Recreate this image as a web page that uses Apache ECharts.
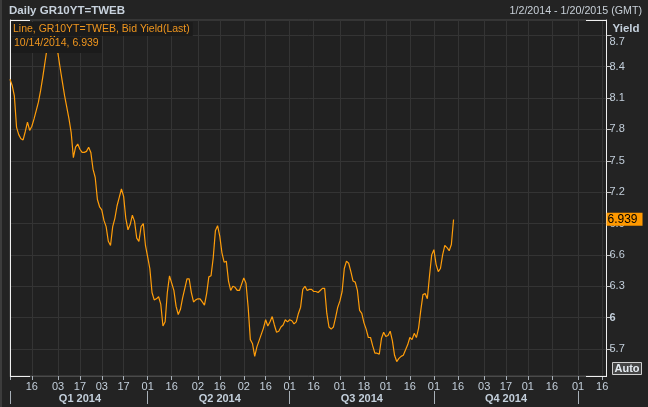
<!DOCTYPE html>
<html><head><meta charset="utf-8">
<script src="https://cdn.jsdelivr.net/npm/echarts@6/dist/echarts.min.js"></script>
<style>html,body{margin:0;padding:0;background:#232323;}#c{width:648px;height:407px;}</style>
</head><body><div id="c"></div>
<script>
// ---- data ----
const startDate = '2014-01-02';
const endDate = '2015-01-20';
const yields = [
 8.28,8.22,8.12,7.82,7.75,7.71,7.70,7.78,7.87,7.79,
 7.83,7.90,7.98,8.06,8.17,8.30,8.44,8.58,8.66,8.70,
 8.71,8.64,8.52,8.38,8.25,8.12,8.01,7.90,7.77,7.53,
 7.63,7.66,7.61,7.58,7.58,7.59,7.63,7.58,7.42,7.34,
 7.13,7.06,7.03,6.93,6.87,6.73,6.69,6.87,6.95,7.07,
 7.15,7.23,7.16,6.95,6.84,6.89,6.98,6.92,6.76,6.73,
 6.87,6.90,6.69,6.58,6.47,6.24,6.17,6.18,6.20,6.13,
 5.92,5.96,6.24,6.40,6.33,6.26,6.11,6.03,6.08,6.19,
 6.28,6.37,6.37,6.24,6.15,6.17,6.18,6.18,6.15,6.12,
 6.23,6.39,6.40,6.57,6.83,6.88,6.78,6.62,6.53,6.54,
 6.35,6.26,6.30,6.29,6.26,6.26,6.32,6.38,6.33,6.10,
 5.79,5.75,5.63,5.72,5.78,5.84,5.90,5.98,5.92,5.96,
 6.01,5.93,5.86,5.87,5.91,5.93,5.98,5.96,5.98,5.97,
 5.94,5.96,6.04,6.10,6.27,6.30,6.26,6.27,6.27,6.25,
 6.25,6.24,6.26,6.28,6.28,6.04,5.91,5.89,5.91,6.00,
 6.10,6.16,6.25,6.47,6.54,6.52,6.44,6.35,6.34,6.26,
 6.07,6.04,5.95,5.89,5.81,5.81,5.73,5.66,5.66,5.65,
 5.80,5.86,5.82,5.83,5.87,5.78,5.64,5.58,5.61,5.63,
 5.64,5.69,5.74,5.81,5.79,5.85,5.81,5.90,6.07,6.22,
 6.23,6.18,6.40,6.60,6.65,6.51,6.44,6.47,6.60,6.69,
 6.67,6.64,6.70,6.939
];
const tickDates = ['2014-01-16','2014-02-03','2014-02-17','2014-03-03','2014-03-17','2014-04-01','2014-04-16','2014-05-02','2014-05-16','2014-06-02','2014-06-16','2014-07-01','2014-07-16','2014-08-01','2014-08-18','2014-09-01','2014-09-16','2014-10-01','2014-10-16','2014-11-03','2014-11-17','2014-12-01','2014-12-16','2015-01-01','2015-01-16'];
const tickLabels = ['16','03','17','03','17','01','16','02','16','02','16','01','16','01','18','01','16','01','16','03','17','01','16','01','16'];
const quarterStarts = ['2014-01-02','2014-04-01','2014-07-01','2014-10-01','2015-01-01'];
const quarterLabels = ['Q1 2014','Q2 2014','Q3 2014','Q4 2014'];
const yTicks = [5.7,6,6.3,6.6,6.9,7.2,7.5,7.8,8.1,8.4,8.7];
const yMin = 5.442, yMax = 8.846;

// ---- business-day categories ----
function iso(d){ return d.toISOString().slice(0,10); }
const categories = [];
for (let d = new Date(startDate + 'T00:00:00Z'); iso(d) <= endDate; d.setUTCDate(d.getUTCDate() + 1)) {
  const w = d.getUTCDay();
  if (w !== 0 && w !== 6) categories.push(iso(d));
}
const labelAt = {};
tickDates.forEach((t, i) => { labelAt[categories.indexOf(t)] = tickLabels[i]; });
const tickIdx = new Set(Object.keys(labelAt).map(Number)); tickIdx.add(0);
const qIdx = quarterStarts.map(q => categories.indexOf(q));
const qLabelAt = {};
quarterLabels.forEach((l, i) => { qLabelAt[Math.round((qIdx[i] + qIdx[i + 1]) / 2)] = l; });
const qTickSet = new Set(qIdx);

const lastVal = yields[yields.length - 1];
const lastDate = categories[yields.length - 1];
const lastDateTxt = (+lastDate.slice(5,7)) + '/' + (+lastDate.slice(8,10)) + '/' + lastDate.slice(0,4);
const firstTxt = (+startDate.slice(5,7)) + '/' + (+startDate.slice(8,10)) + '/' + startDate.slice(0,4);
const endTxt = (+endDate.slice(5,7)) + '/' + (+endDate.slice(8,10)) + '/' + endDate.slice(0,4);

const FONT = '"Liberation Sans", Arial, sans-serif';
const LBL = '#c3cfdb';
const chart = echarts.init(document.getElementById('c'), null, {renderer: 'canvas'});
chart.setOption({
  animation: false,
  backgroundColor: '#232323',
  textStyle: { fontFamily: FONT },
  title: [
    { text: 'Daily GR10YT=TWEB', left: 6, top: 3, padding: [2,3,2,3],
      textStyle: { color: '#c8d2dd', fontSize: 11.5, fontWeight: 'bold', fontFamily: FONT } },
    { text: firstTxt + ' - ' + endTxt + ' (GMT)', right: 3, top: 4, padding: [2,3,2,3],
      textStyle: { color: '#c8d0d8', fontSize: 10.7, fontWeight: 'normal', fontFamily: FONT } },
    { text: 'Line, GR10YT=TWEB, Bid Yield(Last)', left: 11, top: 22, padding: [2,3,1,2],
      backgroundColor: '#1b1b1b',
      textStyle: { color: '#f0961e', fontSize: 10.5, fontWeight: 'normal', fontFamily: FONT } },
    { text: lastDateTxt + ', ' + lastVal, left: 11, top: 37, padding: [1,3,4,3],
      backgroundColor: '#1b1b1b',
      textStyle: { color: '#f0961e', fontSize: 10.5, fontWeight: 'normal', fontFamily: FONT } }
  ],
  grid: { left: 10, right: 41.5, top: 20, bottom: 31, show: true,
          backgroundColor: '#212121', borderColor: '#4a4a4a', borderWidth: 1 },
  xAxis: [
    { type: 'category', data: categories, boundaryGap: false,
      axisLine: { show: true, onZero: false, lineStyle: { color: '#4a4a4a' } },
      axisTick: { show: true, length: 4, interval: (i) => tickIdx.has(i), lineStyle: { color: '#a8b0b8' } },
      axisLabel: { show: true, interval: (i) => labelAt[i] !== undefined, formatter: (v, i) => labelAt[i] || '',
                   color: LBL, fontSize: 11, margin: 5, fontFamily: FONT },
      splitLine: { show: true, interval: (i) => labelAt[i] !== undefined, lineStyle: { color: '#343434', width: 1 } }
    },
    { type: 'category', data: categories, boundaryGap: false, position: 'bottom', offset: 15,
      axisLine: { show: false },
      axisTick: { show: true, length: 13, interval: (i) => qTickSet.has(i), lineStyle: { color: '#a8b0b8' } },
      axisLabel: { show: true, interval: (i) => qLabelAt[i] !== undefined, formatter: (v, i) => qLabelAt[i] || '',
                   color: LBL, fontSize: 11, fontWeight: 'bold', margin: 2, fontFamily: FONT },
      splitLine: { show: false }
    }
  ],
  yAxis: [
    { type: 'value', position: 'right', min: yMin, max: yMax, scale: true,
      name: 'Yield', nameLocation: 'end', nameGap: -3,
      nameTextStyle: { color: LBL, fontWeight: 'bold', fontSize: 11.5, align: 'left', verticalAlign: 'top', padding: [0,0,0,6], fontFamily: FONT },
      axisLine: { show: true, onZero: false, lineStyle: { color: '#f0f0f0' } },
      axisTick: { show: true, length: 5, customValues: yTicks, lineStyle: { color: '#c8c8c8' } },
      axisLabel: { show: true, customValues: yTicks, margin: 3, color: LBL, fontSize: 11, fontFamily: FONT,
        formatter: (v) => v === 6 ? '{b|6}' : (v === 8.7 ? '{t|8.7}' : String(v)),
        rich: { b: { fontWeight: 'bold', color: LBL, fontSize: 11, fontFamily: FONT },
                t: { color: LBL, fontSize: 11, padding: [13,0,0,0], fontFamily: FONT } } },
      splitLine: { show: true, lineStyle: { color: '#343434', width: 1 } }
    },
    { type: 'value', position: 'left', min: yMin, max: yMax, scale: true,
      axisLine: { show: true, onZero: false, lineStyle: { color: '#f0f0f0' } },
      axisTick: { show: false }, axisLabel: { show: false }, splitLine: { show: false }
    }
  ],
  series: [{
    type: 'line', data: yields, xAxisIndex: 0, yAxisIndex: 0,
    showSymbol: false, symbol: 'none', smooth: false,
    lineStyle: { color: '#ff9d0a', width: 1.2 },
    markLine: {
      silent: true, symbol: ['none', 'none'], animation: false,
      lineStyle: { color: 'rgba(0,0,0,0)', width: 1, type: 'solid' },
      label: { show: true, position: 'end', distance: 0, formatter: () => String(lastVal),
               backgroundColor: '#ff9900', color: '#000000', opacity: 1, fontSize: 12, padding: [1,5,0,1], fontFamily: FONT },
      data: [{ yAxis: lastVal }]
    }
  }],
  graphic: [
    { type: 'rect', left: 0, top: 0, shape: { width: 2, height: 407 }, style: { fill: '#3c3c3c' }, silent: true },
    { type: 'line', shape: { x1: 10, y1: 20.5, x2: 30, y2: 20.5 }, style: { stroke: '#f0f0f0', lineWidth: 1 }, z: 100, silent: true },
    { type: 'line', shape: { x1: 10, y1: 376.5, x2: 30, y2: 376.5 }, style: { stroke: '#f0f0f0', lineWidth: 1 }, z: 100, silent: true },
    { type: 'line', shape: { x1: 586, y1: 20.5, x2: 607, y2: 20.5 }, style: { stroke: '#f0f0f0', lineWidth: 1 }, z: 100, silent: true },
    { type: 'line', shape: { x1: 586, y1: 376.5, x2: 607, y2: 376.5 }, style: { stroke: '#f0f0f0', lineWidth: 1 }, z: 100, silent: true },
    { type: 'group', left: 612, top: 362, children: [
      { type: 'rect', shape: { x: 0.5, y: 0.5, width: 29, height: 12 }, style: { fill: '#454545', stroke: '#d0d0d0', lineWidth: 1 } },
      { type: 'text', x: 15, y: 7, style: { text: 'Auto', fill: '#e4eaf0', font: 'bold 11px "Liberation Sans", Arial, sans-serif', align: 'center', verticalAlign: 'middle' } }
    ] }
  ]
});
</script></body></html>
